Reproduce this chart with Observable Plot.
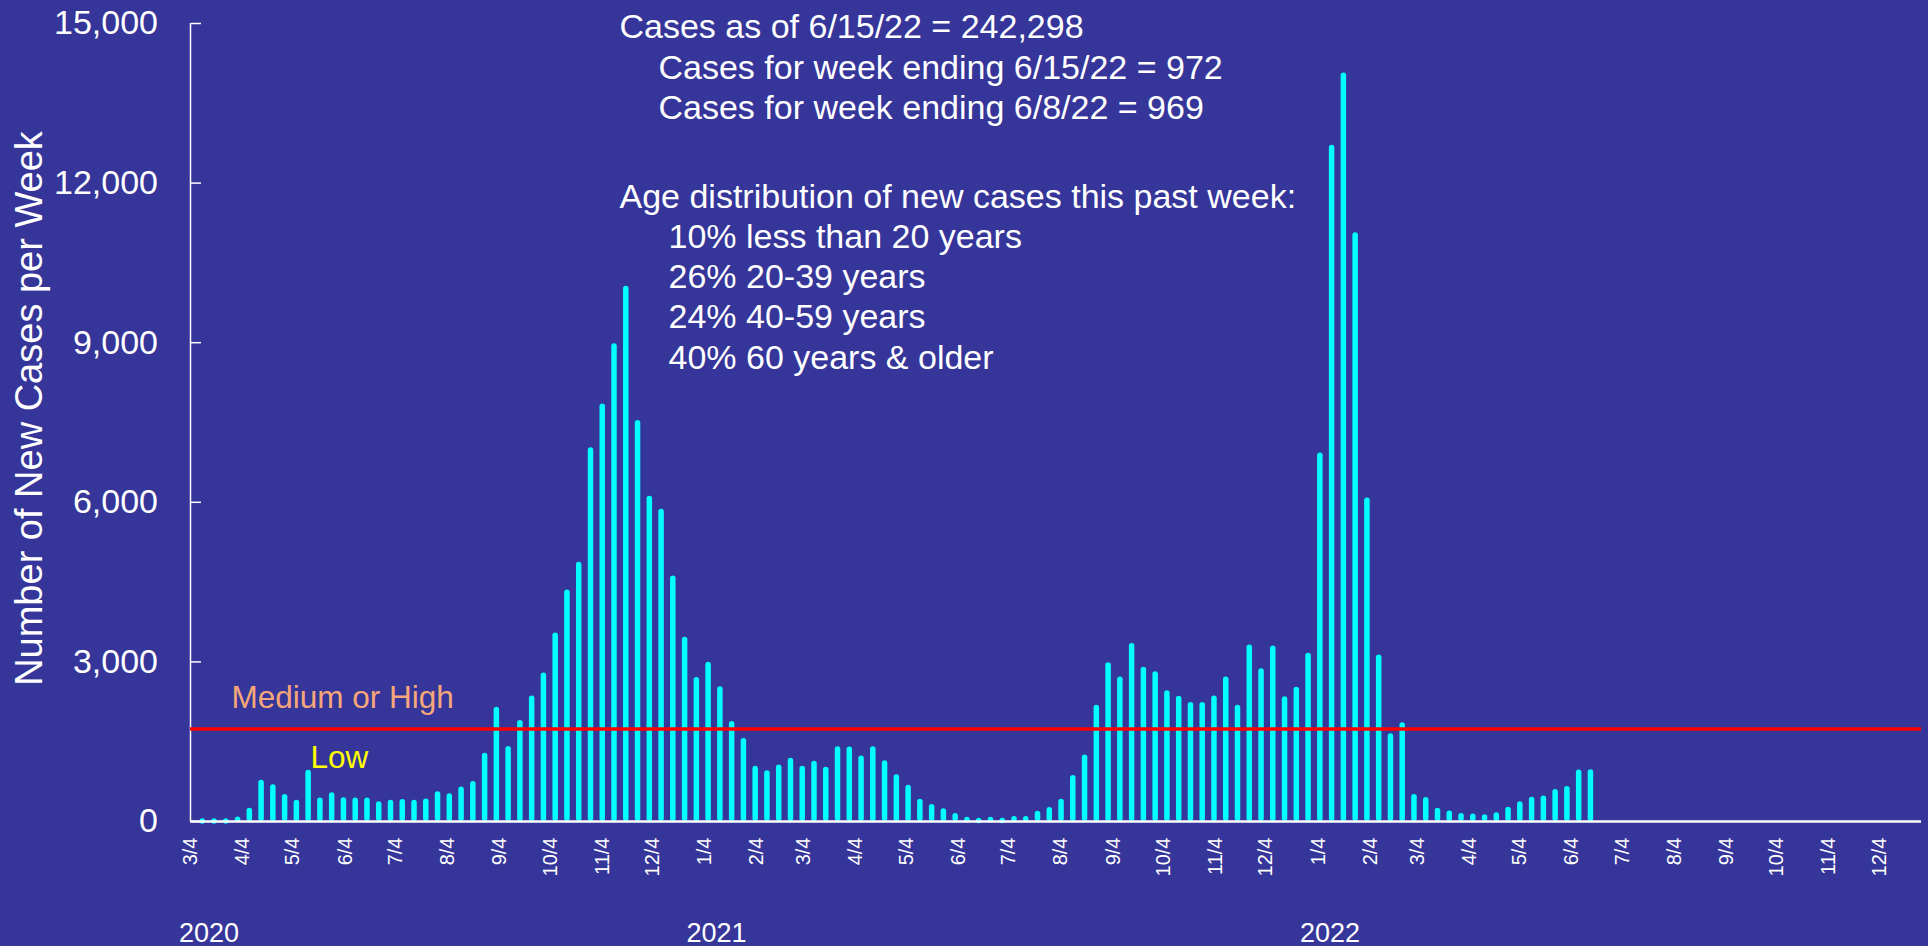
<!DOCTYPE html>
<html>
<head>
<meta charset="utf-8">
<script src="https://cdn.jsdelivr.net/npm/d3@7"></script>
<script src="https://cdn.jsdelivr.net/npm/@observablehq/plot@0.6"></script>
<style>
  html, body { margin: 0; padding: 0; background: #35359a; overflow: hidden; }
  #chart svg { display: block; }
</style>
</head>
<body>
<div id="chart"></div>
<script>
// ---- data ----
const firstWeekEnding = "2020-03-11";
const weeklyCases = [
  10, 10, 35, 85, 250, 775, 690, 510, 400, 965,
  440, 540, 445, 440, 440, 370, 400, 415, 400, 425,
  560, 520, 650, 750, 1285, 2150, 1410, 1900, 2360, 2790,
  3545, 4350, 4875, 7025, 7850, 8980, 10060, 7540, 6115, 5870,
  4615, 3465, 2705, 2995, 2535, 1880, 1560, 1040, 955, 1060,
  1190, 1040, 1135, 1020, 1405, 1400, 1230, 1405, 1140, 880,
  680, 420, 320, 240, 150, 80, 60, 80, 60, 95,
  95, 195, 265, 420, 865, 1250, 2185, 2985, 2715, 3345,
  2900, 2815, 2460, 2355, 2235, 2235, 2360, 2715, 2185, 3320,
  2870, 3300, 2345, 2525, 3165, 6925, 12710, 14070, 11065, 6080,
  3130, 1650, 1855, 510, 450, 250, 200, 150, 140, 125,
  165, 270, 370, 455, 480, 600, 660, 969, 972
];
const threshold = 1740;
const yTicks = [0, 3000, 6000, 9000, 12000, 15000];
const xDomain = ["2020-03-04", "2022-12-29"];
const tickMonthsStart = "2020-03-01";
const tickMonthsEnd = "2023-01-01";
const tickDay = 4;
const yearLabels = ["2020", "2021", "2022"];
const yearDates = ["2020-03-15", "2021-01-11", "2022-01-11"];
const yTitle = "Number of New Cases per Week";
const summaryLines = [
  "Cases as of 6/15/22 = 242,298",
  "Cases for week ending 6/15/22 = 972",
  "Cases for week ending 6/8/22 = 969"
];
const ageLines = [
  "Age distribution of new cases this past week:",
  "10% less than 20 years",
  "26% 20-39 years",
  "24% 40-59 years",
  "40% 60 years & older"
];
const levelLabels = ["Medium or High", "Low"];

// ---- derived tables ----
const weekly = weeklyCases.map((v, i) => ({
  date: d3.utcDay.offset(new Date(firstWeekEnding), 7 * i),
  cases: v
}));
const monthTicks = d3.utcMonth
  .range(new Date(tickMonthsStart), new Date(tickMonthsEnd))
  .map(d => d3.utcDay.offset(d, tickDay - 1));

// styles
const BG = "#35359a";
const CYAN = "#00ffff";
const FONT = "'Liberation Sans', Arial, Helvetica, sans-serif";
const capUnits = 52; // half bar width expressed in data units (round caps)

const topOf = d => Math.max(0, d.cases - capUnits);

const textLine = (t, dx, dy, size, fill) =>
  Plot.text([t], {
    text: d => d, frameAnchor: "top-left", dx, dy,
    textAnchor: "start", lineAnchor: "bottom", fontSize: size, fill
  });

const chart = Plot.plot({
  width: 1928,
  height: 946,
  marginLeft: 190,
  marginRight: 7,
  marginTop: 23,
  marginBottom: 125,
  style: { background: BG, color: "white", fontFamily: FONT, overflow: "visible" },
  x: { type: "utc", domain: xDomain.map(d => new Date(d)) },
  y: { domain: [0, 15000] },
  marks: [
    // y tick labels
    Plot.axisY({
      ticks: yTicks, tickFormat: d3.format(","), tickSize: 0, tickPadding: 32.5,
      fontSize: 34, label: null
    }),
    // y tick marks pointing inward (right) from the left edge
    Plot.axisY({
      anchor: "right", frameAnchor: "left", ticks: yTicks, tickSize: 10,
      fill: "none", label: null, strokeWidth: 1.5
    }),
    Plot.axisX({
      ticks: monthTicks,
      tickFormat: d => `${d.getUTCMonth() + 1}/${d.getUTCDate()}`,
      tickRotate: -90, tickSize: 0, tickPadding: 16, fontSize: 20, label: null
    }),
    Plot.ruleX(weekly, {
      x: "date",
      y1: d => Math.min(capUnits, topOf(d)),
      y2: topOf,
      stroke: CYAN, strokeWidth: 5.5, strokeLinecap: "round"
    }),
    Plot.ruleX([new Date(xDomain[0])], { stroke: "white", strokeWidth: 1.5 }),
    Plot.ruleY([0], { stroke: "white", strokeWidth: 2.5 }),
    Plot.ruleY([threshold], { stroke: "#ff0000", strokeWidth: 3.5 }),
    Plot.text([yTitle], {
      text: d => d, frameAnchor: "left", rotate: -90, dx: -160.5, dy: -14,
      textAnchor: "middle", lineAnchor: "middle", fontSize: 38, fill: "white"
    }),
    Plot.text(yearLabels, {
      text: d => d, x: (d, i) => new Date(yearDates[i]), frameAnchor: "bottom",
      dy: 120, lineAnchor: "bottom", textAnchor: "middle", fontSize: 27, fill: "white"
    }),
    textLine(summaryLines[0], 429, 14, 34, "white"),
    textLine(summaryLines[1], 468, 55, 34, "white"),
    textLine(summaryLines[2], 468, 95, 34, "white"),
    textLine(ageLines[0], 429, 184, 34, "white"),
    textLine(ageLines[1], 478, 224, 34, "white"),
    textLine(ageLines[2], 478, 264.5, 34, "white"),
    textLine(ageLines[3], 478, 304.5, 34, "white"),
    textLine(ageLines[4], 478, 345.5, 34, "white"),
    textLine(levelLabels[0], 41, 684, 31.5, "#f6a77a"),
    textLine(levelLabels[1], 120, 744, 31.5, "#ffff00")
  ]
});

document.getElementById("chart").appendChild(chart);
</script>
</body>
</html>
